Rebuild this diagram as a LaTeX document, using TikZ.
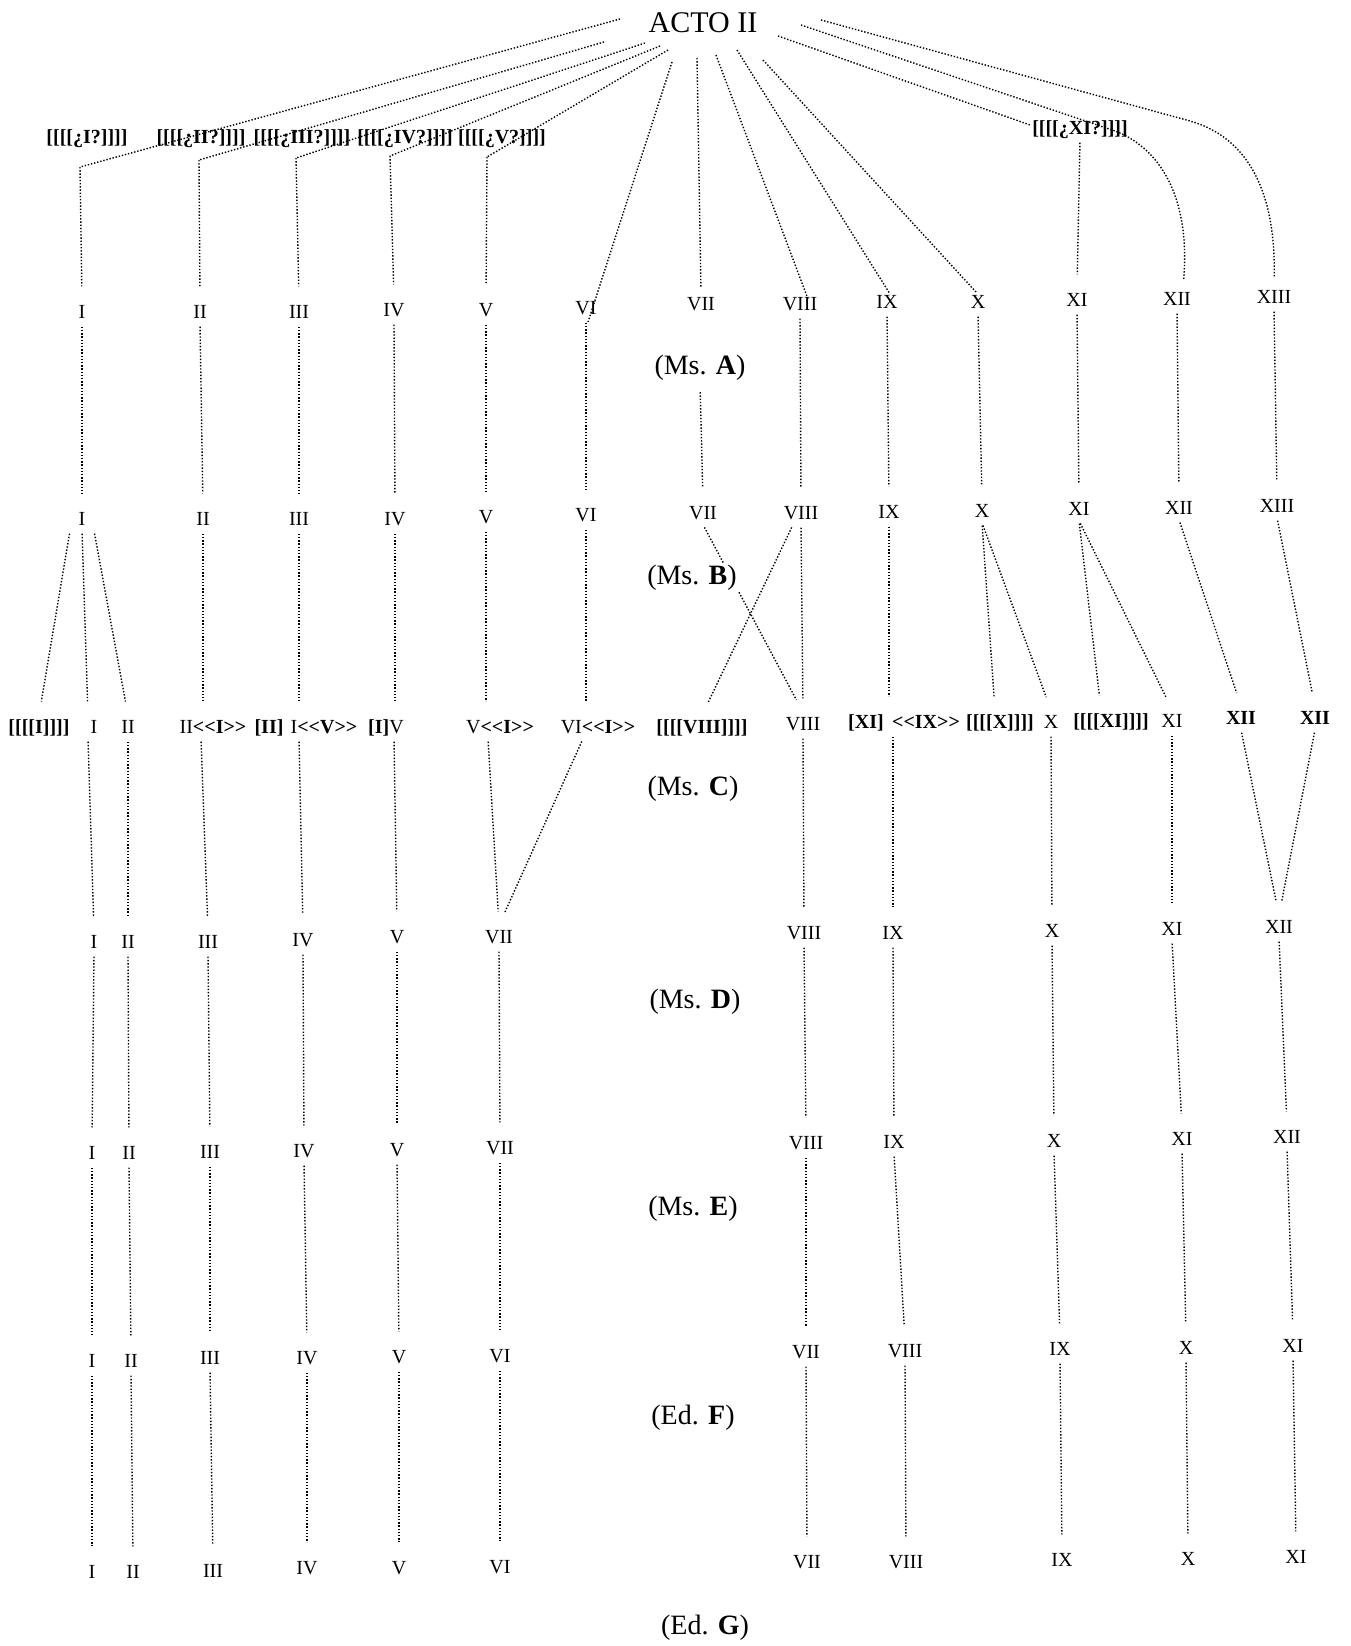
\documentclass[tikz,border=0pt]{standalone}
\usepackage{fontspec}
\setmainfont{Liberation Serif}
\usetikzlibrary{calc,backgrounds}
\newcommand\dlt{<\kern0pt<}
\newcommand\dgt{>\kern0pt>}
\begin{document}
\begin{tikzpicture}[x=1pt,y=-1pt,
  num/.style={font=\fontsize{20}{24}\selectfont, inner sep=5pt, text height=13pt, text depth=0pt},
  brk/.style={font=\fontsize{20}{24}\selectfont\bfseries, inner sep=5pt, text height=13pt, text depth=0pt},
  ms/.style={font=\fontsize{28}{32}\selectfont, fill=white, inner sep=2pt, text height=19pt, text depth=6pt, anchor=base},
  dl/.style={line width=1.4pt, dash pattern=on 1.4pt off 1.8pt},
  cv/.style={dl, shorten <=3pt, shorten >=14pt}]
\useasboundingbox (0,0) rectangle (1350,1646);
% title
\node[font=\fontsize{30}{34}\selectfont, text height=20pt, text depth=0pt, inner sep=2pt] (acto) at (703,23) {ACTO II};
% hypothetical labels
\node[brk] (h1) at (87,137) {[[[[¿I?]]]]};
\node[brk] (h2) at (201,137) {[[[[¿II?]]]]};
\node[brk] (h3) at (302,137) {[[[[¿III?]]]]};
\node[brk] (h4) at (405,137) {[[[[¿IV?]]]]};
\node[brk] (h5) at (502,137) {[[[[¿V?]]]]};
\node[brk] (h11) at (1080,128) {[[[[¿XI?]]]]};
% start points at the title
\coordinate (s1) at (620,19);
\coordinate (s2) at (604,42);
\coordinate (s3) at (645,43);
\coordinate (s4) at (660,46);
\coordinate (s5) at (668,50);
\coordinate (s6) at (672,62);
\coordinate (s7) at (697,58);
\coordinate (s8) at (716,55);
\coordinate (s9) at (737,50);
\coordinate (s10) at (763,60);
\coordinate (s11) at (778,36);
\coordinate (s12) at (801,25);
\coordinate (s13) at (821,20);
% kinks
\coordinate (k1) at (80,167);
\coordinate (k2) at (199,160);
\coordinate (k3) at (296,158);
\coordinate (k4) at (390,156);
\coordinate (k5) at (487,157);
% row A
\node[num] (a1) at (82,312) {I};
\node[num] (a2) at (200,312) {II};
\node[num] (a3) at (299,312) {III};
\node[num] (a4) at (394,310) {IV};
\node[num] (a5) at (486,310) {V};
\node[num] (a6) at (586,308) {VI};
\node[num] (a7) at (701,304) {VII};
\node[num] (a8) at (800,304) {VIII};
\node[num] (a9) at (887,302) {IX};
\node[num] (a10) at (978,302) {X};
\node[num] (a11) at (1077,300) {XI};
\node[num] (a12) at (1177,299) {XII};
\node[num] (a13) at (1274,297) {XIII};
\node[ms] (msa) at (700,374) {(Ms. \textbf{A})};
% row B
\node[num] (b1) at (82,519) {I};
\node[num] (b2) at (203,519) {II};
\node[num] (b3) at (299,519) {III};
\node[num] (b4) at (395,519) {IV};
\node[num] (b5) at (486,517) {V};
\node[num] (b6) at (586,515) {VI};
\node[num] (b7) at (703,513) {VII};
\node[num] (b8) at (801,513) {VIII};
\node[num] (b9) at (889,512) {IX};
\node[num] (b10) at (982,511) {X};
\node[num] (b11) at (1079,509) {XI};
\node[num] (b12) at (1179,508) {XII};
\node[num] (b13) at (1277,506) {XIII};
\node[ms] (msb) at (692,584) {(Ms. \textbf{B})};
% row C
\node[brk] (c1) at (39,727) {[[[[I]]]]};
\node[num] (c2) at (94,727) {I};
\node[num] (c3) at (128,727) {II};
\node[num] (c4) at (213,727) {II\textbf{\dlt I\dgt}};
\node[brk] (c5) at (269,727) {[II]};
\node[num] (c6) at (324,727) {I\textbf{\dlt V\dgt}};
\node[num] (c7) at (386,727) {\textbf{[I]}V};
\node[num] (c8) at (500,727) {V\textbf{\dlt I\dgt}};
\node[num] (c9) at (598,727) {VI\textbf{\dlt I\dgt}};
\node[brk] (c10) at (702,727) {[[[[VIII]]]]};
\node[num] (c11) at (803,724) {VIII};
\node[brk] (c12) at (866,722) {[XI]};
\node[brk] (c13) at (926,722) {\dlt IX\dgt};
\node[brk] (c14) at (1000,722) {[[[[X]]]]};
\node[num] (c15) at (1051,722) {X};
\node[brk] (c16) at (1111,721) {[[[[XI]]]]};
\node[num] (c17) at (1172,721) {XI};
\node[brk] (c18) at (1241,718) {XII};
\node[brk] (c19) at (1315,718) {XII};
\node[ms] (msc) at (693,795) {(Ms. \textbf{C})};
% row D
\node[num] (d1) at (94,942) {I};
\node[num] (d2) at (128,942) {II};
\node[num] (d3) at (208,942) {III};
\node[num] (d4) at (303,940) {IV};
\node[num] (d5) at (397,937) {V};
\node[num] (d7) at (499,937) {VII};
\node[num] (d8) at (804,933) {VIII};
\node[num] (d9) at (893,933) {IX};
\node[num] (d10) at (1052,931) {X};
\node[num] (d11) at (1172,929) {XI};
\node[num] (d12) at (1279,927) {XII};
\node[ms] (msd) at (695,1008) {(Ms. \textbf{D})};
% row E
\node[num] (e1) at (92,1153) {I};
\node[num] (e2) at (129,1153) {II};
\node[num] (e3) at (210,1152) {III};
\node[num] (e4) at (304,1151) {IV};
\node[num] (e5) at (397,1150) {V};
\node[num] (e7) at (500,1148) {VII};
\node[num] (e8) at (806,1143) {VIII};
\node[num] (e9) at (894,1142) {IX};
\node[num] (e10) at (1054,1141) {X};
\node[num] (e11) at (1182,1139) {XI};
\node[num] (e12) at (1287,1137) {XII};
\node[ms] (mse) at (693,1215) {(Ms. \textbf{E})};
% row F
\node[num] (f1) at (92,1361) {I};
\node[num] (f2) at (131,1361) {II};
\node[num] (f3) at (210,1358) {III};
\node[num] (f4) at (307,1358) {IV};
\node[num] (f5) at (399,1357) {V};
\node[num] (f6) at (500,1356) {VI};
\node[num] (f7) at (806,1352) {VII};
\node[num] (f8) at (905,1351) {VIII};
\node[num] (f9) at (1060,1349) {IX};
\node[num] (f10) at (1186,1348) {X};
\node[num] (f11) at (1293,1346) {XI};
\node[ms] (edf) at (693,1424) {(Ed. \textbf{F})};
% row G
\node[num] (g1) at (92,1572) {I};
\node[num] (g2) at (133,1572) {II};
\node[num] (g3) at (213,1571) {III};
\node[num] (g4) at (307,1568) {IV};
\node[num] (g5) at (399,1568) {V};
\node[num] (g6) at (500,1567) {VI};
\node[num] (g7) at (807,1562) {VII};
\node[num] (g8) at (906,1562) {VIII};
\node[num] (g9) at (1062,1560) {IX};
\node[num] (g10) at (1188,1559) {X};
\node[num] (g11) at (1296,1557) {XI};
\node[ms] (edg) at (705,1634) {(Ed. \textbf{G})};

\begin{pgfonlayer}{background}
\fill[white] (0,0) rectangle (1350,1646);
% title to row A
\draw[dl] (s1) -- (k1);
\draw[dl] (s2) -- (k2);
\draw[dl] (s3) -- (k3);
\draw[dl] (s4) -- (k4);
\draw[dl] (s5) -- (k5);
\foreach \i in {1,...,5} \draw[dl, shorten >=14pt] (k\i) -- (a\i.north);
\draw[dl] (s6) -- ($(a6.center)+(2,14)$);
\draw[dl, shorten >=4pt] (s7) -- (a7.north);
\draw[dl] (s8) -- ($(a8.center)+(8,-5)$);
\draw[dl] (s9) -- ($(a9.center)+(3,-8)$);
\draw[dl] (s10) -- ($(a10.center)+(-2,-10)$);
\draw[dl] (s11) -- ($(h11.west)+(3,-3)$);
\draw[cv] (h11.south) -- (a11.north);
\draw[dl, shorten >=8pt] (s12) -- (1115,131) .. controls (1165,150) and (1190,205) .. ($(a12.north)+(6,0)$);
\draw[dl, shorten >=8pt] (s13) -- (1190,121) .. controls (1250,138) and (1276,195) .. (a13.north);
% A to B
\foreach \i in {1,2,3,4,5,6,8,9,10,11,12,13} \draw[cv] (a\i.south) -- (b\i.north);
\draw[cv, shorten <=10pt] (msa.south) -- (b7.north);
% B to C
\draw[cv] ($(b1.south)+(-12,0)$) -- (c1.north);
\draw[cv] (b1.south) -- ($(c2.north)+(-6,0)$);
\draw[cv] ($(b1.south)+(12,0)$) -- (c3.north);
\draw[cv] (b2.south) -- (b2.south |- c4.north);
\draw[cv] (b3.south) -- (b3.south |- c6.north);
\draw[cv] (b4.south) -- (b4.south |- c7.north);
\draw[cv] (b5.south) -- (b5.south |- c8.north);
\draw[cv] (b6.south) -- (b6.south |- c9.north);
\draw[cv] (b7.south) -- (c11.north);
\draw[cv] ($(b8.south)+(-8,0)$) -- (c10.north);
\draw[cv] (b8.south) -- (c11.north);
\draw[cv] (b9.south) -- (b9.south |- c13.north);
\draw[cv] (b10.south) -- ($(c14.north)+(-5,0)$);
\draw[cv] (b10.south) -- (c15.north);
\draw[cv] (b11.south) -- ($(c16.north)+(-10,0)$);
\draw[cv] (b11.south) -- (c17.north);
\draw[cv] (b12.south) -- (c18.north);
\draw[cv] (b13.south) -- (c19.north);
% C to D
\draw[cv] ($(c2.south)+(-6,0)$) -- (d1.north);
\draw[cv] (c3.south) -- (d2.north);
\draw[cv] ($(c4.south)+(-12,0)$) -- (d3.north);
\draw[cv] ($(c6.south)+(-25,0)$) -- (d4.north);
\draw[cv] ($(c7.south)+(8,0)$) -- (d5.north);
\draw[cv] ($(c8.south)+(-12,0)$) -- (d7.north);
\draw[cv] ($(c9.south)+(-15,0)$) -- (d7.north);
\draw[cv] (c11.south) -- (d8.north);
\draw[cv] (d9.north |- c13.south) -- (d9.north);
\draw[cv] (c15.south) -- (d10.north);
\draw[cv] (c17.south) -- (d11.north);
\draw[cv] (c18.south) -- (d12.north);
\draw[cv] (c19.south) -- (d12.north);
% D to E
\foreach \i in {1,2,3,4,5,7,8,9,10,11,12} \draw[cv] (d\i.south) -- (e\i.north);
% E to F
\draw[cv] (e1.south) -- (f1.north);
\draw[cv] (e2.south) -- (f2.north);
\draw[cv] (e3.south) -- (f3.north);
\draw[cv] (e4.south) -- (f4.north);
\draw[cv] (e5.south) -- (f5.north);
\draw[cv] (e7.south) -- (f6.north);
\draw[cv] (e8.south) -- (f7.north);
\draw[cv] (e9.south) -- (f8.north);
\draw[cv] (e10.south) -- (f9.north);
\draw[cv] (e11.south) -- (f10.north);
\draw[cv] (e12.south) -- (f11.north);
% F to G
\foreach \i in {1,...,11} \draw[cv] (f\i.south) -- (g\i.north);
\end{pgfonlayer}
\end{tikzpicture}
\end{document}
